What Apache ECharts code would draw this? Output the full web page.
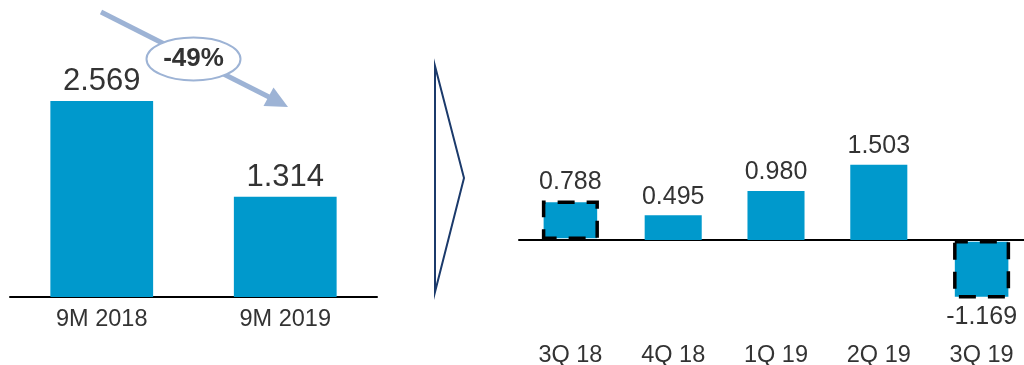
<!DOCTYPE html>
<html>
<head>
<meta charset="utf-8">
<script src="https://cdn.jsdelivr.net/npm/echarts@6/dist/echarts.min.js"></script>
<style>
  html, body { margin: 0; padding: 0; background: #fff; }
  #chart { width: 1024px; height: 365px; }
</style>
</head>
<body>
<div id="chart"></div>
<script>
// Nine-month totals
const periodLabels = ['9M 2018', '9M 2019'];
const periodValues = [2.569, 1.314];

// Quarterly results
const quarterLabels = ['3Q 18', '4Q 18', '1Q 19', '2Q 19', '3Q 19'];
const quarterValues = [0.788, 0.495, 0.980, 1.503, -1.169];

// Quarters drawn with a dashed outline
const markedQuarters = ['3Q 18', '3Q 19'];

const changeLabel = '-49%';

const BAR = '#0099cc';
const TEXT = '#333333';
const FONT = '"Liberation Sans", Arial, sans-serif';

const fmt = v => v.toFixed(3);

const quarterData = quarterValues.map((v, i) => {
  const item = { value: v };
  if (v < 0) item.label = { position: 'bottom' };
  if (markedQuarters.includes(quarterLabels[i])) {
    item.itemStyle = {
      borderColor: '#000',
      borderWidth: 3.5,
      borderType: [17, 12],
      borderDashOffset: 4
    };
  }
  return item;
});

const chart = echarts.init(document.getElementById('chart'), null, { renderer: 'canvas' });

chart.setOption({
  animation: false,
  textStyle: { fontFamily: FONT },
  grid: [
    { left: 10, width: 367, top: 68, height: 229, containLabel: false, outerBoundsMode: 'none' },
    { left: 519, width: 514, top: 140, height: 200, containLabel: false, outerBoundsMode: 'none' }
  ],
  xAxis: [
    {
      type: 'category', gridIndex: 0, data: periodLabels,
      axisLine: { lineStyle: { color: '#000', width: 2 } },
      axisTick: { show: false },
      axisLabel: { color: TEXT, fontSize: 23.5, fontFamily: FONT, margin: 11 }
    },
    {
      // zero line of the quarterly panel
      type: 'category', gridIndex: 1, data: quarterLabels,
      axisLine: { onZero: true, lineStyle: { color: '#000', width: 2 } },
      axisTick: { show: false },
      axisLabel: { show: false }
    },
    {
      // quarter names along the bottom of the panel
      type: 'category', gridIndex: 1, data: quarterLabels, position: 'bottom',
      axisLine: { show: false, onZero: false },
      axisTick: { show: false },
      axisLabel: { color: TEXT, fontSize: 23.5, fontFamily: FONT, margin: 4, interval: 0 }
    }
  ],
  yAxis: [
    { type: 'value', gridIndex: 0, min: 0, max: 3, show: false },
    { type: 'value', gridIndex: 1, min: -2, max: 2, show: false }
  ],
  series: [
    {
      type: 'bar', xAxisIndex: 0, yAxisIndex: 0,
      data: periodValues, barWidth: '56%',
      itemStyle: { color: BAR },
      label: {
        show: true, position: 'top', distance: 4,
        color: TEXT, fontSize: 31, fontFamily: FONT,
        formatter: p => fmt(p.value)
      }
    },
    {
      type: 'bar', xAxisIndex: 1, yAxisIndex: 1,
      data: quarterData, barWidth: '55.5%',
      itemStyle: { color: BAR },
      label: {
        show: true, position: 'top', distance: 6,
        color: TEXT, fontSize: 25, fontFamily: FONT,
        formatter: p => fmt(p.value)
      }
    }
  ],
  graphic: [
    // trend arrow between the two nine-month bars
    {
      type: 'line', silent: true,
      shape: { x1: 101, y1: 12, x2: 269, y2: 97 },
      style: { stroke: '#9db3d5', lineWidth: 5 }
    },
    {
      type: 'polygon', silent: true,
      shape: { points: [[288, 107], [263.5, 106], [273.5, 87.5]] },
      style: { fill: '#9db3d5' }
    },
    {
      type: 'ellipse', silent: true,
      shape: { cx: 193.5, cy: 59, rx: 47, ry: 21.5 },
      style: { fill: '#fff', stroke: '#9db3d5', lineWidth: 2 }
    },
    {
      type: 'text', silent: true,
      x: 193.5, y: 59,
      style: {
        text: changeLabel, fill: TEXT, fontSize: 26, fontWeight: 'bold',
        fontFamily: FONT, align: 'center', verticalAlign: 'middle'
      }
    },
    // chevron separating the two panels
    {
      type: 'polygon', silent: true,
      shape: { points: [[435, 66], [464, 178], [435, 292]] },
      style: { fill: 'none', stroke: '#1b3a6b', lineWidth: 2 }
    }
  ]
});
</script>
</body>
</html>
